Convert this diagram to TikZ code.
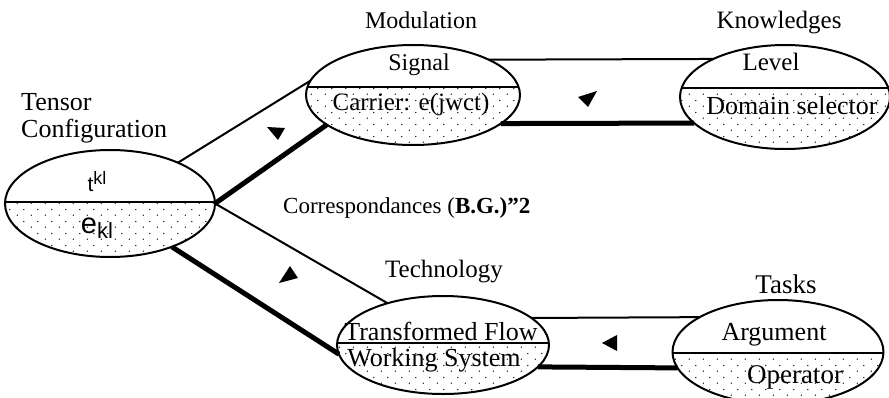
\documentclass[tikz,border=0pt]{standalone}
\usepackage{fontspec}
\setmainfont{Liberation Serif}
\newfontfamily\sansf{Liberation Sans}
\usetikzlibrary{shapes.geometric,patterns.meta}
\newcommand\fsz[1]{\fontsize{#1}{#1}\selectfont}
\tikzdeclarepattern{
  name=sdots,
  type=uncolored,
  bounding box={(0pt,0pt) and (14pt,12pt)},
  tile size={(14pt,12pt)},
  code={
    \pgfpathcircle{\pgfpoint{3.5pt}{3pt}}{0.75pt}
    \pgfpathcircle{\pgfpoint{10.5pt}{9pt}}{0.75pt}
    \pgfusepath{fill}
  }
}
\newcommand\halfell[6]{%
  \begin{scope}
    \clip (#2,#3) ellipse [x radius=#4pt, y radius=#5pt];
    \fill[pattern=sdots] ({#2-#4},#6) rectangle ({#2+#4},{#3+#5});
    \draw[line width=2pt] ({#2-#4},#6) -- ({#2+#4},#6);
  \end{scope}
  \node[ell, minimum width={2*#4pt}, minimum height={2*#5pt}] (#1) at (#2,#3) {};
}
\begin{document}
\begin{tikzpicture}[x=1pt,y=-1pt,
  ell/.style={ellipse, draw, line width=2pt, inner sep=0pt, outer sep=0pt},
  thinl/.style={line width=2pt},
  thickl/.style={line width=5pt},
  lbl/.style={inner sep=0pt, anchor=base},
  arr/.style={fill=black}]
\useasboundingbox (0,0) rectangle (889,397);

% half-dotted ellipses
\halfell{T}{110}{203.5}{105}{53.5}{202}
\halfell{M}{413}{95}{107}{50}{87}
\halfell{K}{785}{97}{105}{52}{88}
\halfell{H}{443}{345}{106}{49}{343}
\halfell{S}{778}{352}{105.5}{52}{353}

% connectors
\draw[thinl]  (T.31.9) -- (M.172.9);
\draw[thickl] (T.east) -- (M.199.7);
\draw[thinl]  (T.east) -- (H.143.1);
\draw[thickl] (T.-35.2) -- (H.185.5);

\draw[thinl]  (M.25.85) -- (K.152.1);
\draw[thickl] (M.-18.4) -- (K.196.8);
\draw[thinl]  (H.17.0) -- (S.156.9);
\draw[thickl] (H.-13.8) -- (S.189.05);

% arrowheads
\fill[arr] (267,127) -- (285,128) -- (278,140) -- cycle;
\fill[arr] (290,266) -- (298,278) -- (279,283) -- cycle;
\fill[arr] (578,97) -- (597,91) -- (588,107) -- cycle;
\fill[arr] (602,343) -- (617,335) -- (617,351) -- cycle;

% outer labels
\node[lbl, anchor=base west, font=\fsz{26}] (ltens1) at (21,110) {Tensor};
\node[lbl, anchor=base west, font=\fsz{26}] (ltens2) at (21,137) {Configuration};
\node[lbl, font=\fsz{24}] (lmod) at (421,28) {Modulation};
\node[lbl, font=\fsz{25}] (lknow) at (779,28) {Knowledges};
\node[lbl, font=\fsz{25}] (ltech) at (444,277) {Technology};
\node[lbl, font=\fsz{27}] (ltask) at (786,293) {Tasks};
\node[lbl, anchor=base west, font=\fsz{23}] (lcorr) at (283,213)
  {Correspondances (\textbf{B.G.)"2}};

% inner texts
\node[lbl, font=\fsz{24}] (tsig) at (419,70) {Signal};
\node[lbl, font=\fsz{25}] (tcar) at (411,110) {Carrier: e(jwct)};
\node[lbl, font=\fsz{25}] (tlev) at (771,70) {Level};
\node[lbl, font=\fsz{26}] (tdom) at (792,114) {Domain selector};
\node[lbl, font=\fsz{26}] (ttra) at (441,340) {Transformed Flow};
\node[lbl, font=\fsz{26}] (twor) at (434,366) {Working System};
\node[lbl, font=\fsz{26}] (targ) at (774,340) {Argument};
\node[lbl, font=\fsz{27}] (tope) at (795,383) {Operator};
\node[lbl, font=\sansf] (ttkl) at (97,191)
  {\fsz{21}t\raisebox{7pt}{\fsz{18}kl}};
\node[lbl, font=\sansf] (tekl) at (97,233)
  {\fsz{29}e\raisebox{-5pt}{\fsz{22}kl}};
\end{tikzpicture}
\end{document}
